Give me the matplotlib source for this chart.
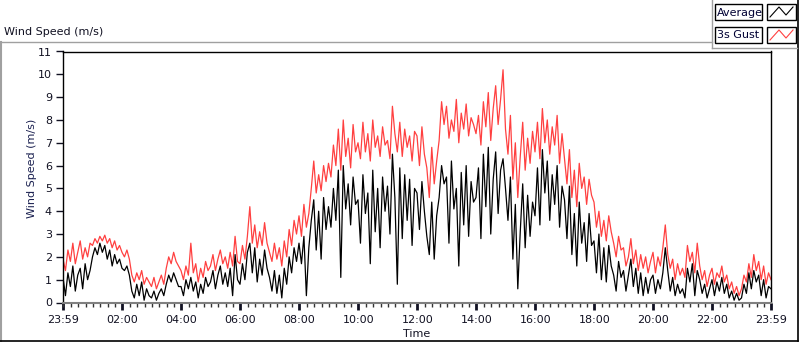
import numpy as np
import matplotlib
matplotlib.use('Agg')
import matplotlib.pyplot as plt
from matplotlib.patches import Rectangle
from matplotlib.lines import Line2D

# minutes after 23:59, one sample every 5 minutes
minutes = np.arange(0, 1441, 5)

gust = [
    1.9, 1.4, 2.3, 1.8, 2.6, 1.7, 2.2, 2.7, 1.9, 2.4, 2.0, 2.6,
    2.5, 2.8, 2.6, 2.9, 2.7, 2.95, 2.6, 2.8, 2.4, 2.7, 2.3, 2.5,
    2.2, 2.0, 2.3, 1.9, 1.2, 0.9, 1.3, 1.0, 1.4, 0.8, 1.1, 0.9,
    0.7, 1.1, 0.6, 0.9, 1.2, 0.8, 1.5, 2.0, 1.7, 2.2, 1.8, 1.6,
    1.4, 1.0, 1.6, 1.2, 2.6, 1.3, 1.7, 0.9, 1.5, 1.1, 1.8, 1.4,
    1.6, 2.1, 1.4, 1.9, 2.3, 1.7, 2.0, 1.5, 2.2, 1.6, 2.9, 1.8,
    1.7, 2.5, 1.9, 2.9, 4.2, 2.6, 3.4, 2.4, 3.1, 2.5, 3.5, 2.6,
    2.2, 1.8, 2.6, 1.9, 2.4, 1.6, 2.7, 2.0, 3.2, 2.5, 3.6, 3.0,
    3.8, 2.9, 4.3, 3.3, 3.9, 5.0, 6.2, 4.8, 5.6, 4.9, 6.0, 5.3,
    6.1, 5.5, 6.9, 6.0, 7.6, 5.8, 8.0, 6.4, 7.2, 5.9, 7.8, 6.6,
    7.0, 6.3, 7.9, 6.6, 7.4, 6.2, 8.0, 6.8, 7.3, 6.4, 7.7, 6.9,
    7.1, 6.3, 8.6, 7.4, 6.6, 7.9, 6.4, 7.6, 6.8, 7.3, 6.2, 7.5,
    7.3, 6.0, 7.7, 6.5, 5.9, 4.6, 6.8, 5.2, 6.2, 7.1, 8.8, 7.8,
    8.6, 7.2, 8.0, 7.5, 8.9, 7.0, 8.3, 7.6, 8.7, 7.3, 8.1, 7.8,
    7.4, 8.2, 6.9, 8.8, 7.7, 9.2, 7.1, 8.5, 9.5, 7.8, 8.9, 10.2,
    7.6, 6.5, 8.2, 5.4, 7.0, 4.6, 6.4, 7.9, 5.8, 7.2, 6.1, 7.5,
    6.6, 7.9, 6.3, 8.5, 7.0, 8.0, 6.5, 7.7, 6.9, 8.2, 6.1, 7.4,
    6.3, 5.2, 6.7, 4.6, 5.8, 4.2, 6.1, 5.0, 5.5, 4.3, 5.4, 4.7,
    4.4, 3.3, 4.0, 2.9, 3.6, 2.7, 3.8, 3.1, 2.6, 2.0, 2.9, 2.3,
    2.4, 1.6, 2.0, 2.8, 1.7, 2.3, 1.4, 2.1, 1.5, 2.0, 1.3, 1.8,
    2.2, 1.3, 2.0, 1.6, 2.4, 3.4, 2.1, 1.5, 1.9, 1.0, 1.7, 1.2,
    1.5, 1.1, 2.5, 1.8, 2.2, 1.3, 2.6, 1.6, 1.0, 1.4, 0.7, 1.2,
    1.5, 0.8, 1.3, 1.1, 1.6, 0.9, 1.2, 0.6, 0.9, 0.4, 0.7, 0.3,
    0.6, 1.2, 0.9, 1.7, 1.1, 2.1, 1.4, 1.8, 1.0, 1.6, 0.8, 1.3, 1.0,
]

average = [
    1.1, 0.3, 1.3, 0.7, 1.6, 0.5, 1.2, 1.5, 0.6, 1.7, 1.0, 1.4,
    2.0, 2.4, 2.1, 2.6, 2.2, 2.5, 1.9, 2.3, 1.6, 2.1, 1.7, 1.9,
    1.5, 1.4, 1.6, 1.2, 0.5, 0.2, 0.8, 0.3, 0.9, 0.1, 0.6, 0.3,
    0.2, 0.5, 0.1, 0.4, 0.6, 0.3, 0.8, 1.2, 0.9, 1.3, 1.0, 0.7,
    0.7, 0.3, 1.0, 0.6, 1.1, 0.5, 0.9, 0.2, 0.8, 0.4, 1.1, 0.7,
    0.9, 1.4, 0.6, 1.2, 1.6, 0.8, 1.3, 0.7, 1.5, 0.3, 2.1, 1.0,
    0.8, 1.7, 1.0, 2.2, 2.6, 1.3, 2.4, 0.9, 1.9, 1.2, 2.3, 1.5,
    1.1, 0.5, 1.4, 0.4, 1.2, 0.2, 1.5, 0.8, 2.0, 1.3, 2.4, 1.8,
    2.6, 1.7, 2.9, 0.3, 2.4, 3.6, 4.5, 2.3, 4.0, 1.9, 4.6, 3.2,
    4.2, 3.3, 5.0, 3.6, 5.8, 1.1, 6.0, 4.1, 5.2, 3.4, 5.5, 4.3,
    4.5, 2.6, 5.6, 3.9, 4.8, 1.7, 5.8, 3.1, 5.0, 2.4, 5.5, 4.0,
    5.1, 3.0, 6.5, 4.6, 0.8, 5.9, 2.8, 5.6, 3.6, 5.4, 2.5, 5.0,
    4.8, 3.2, 5.3, 4.0, 2.9, 2.1, 4.4, 1.9, 3.8, 4.6, 6.0, 5.2,
    5.5, 2.6, 6.2, 4.1, 5.0, 1.6, 5.7, 3.4, 6.0, 2.9, 5.3, 4.4,
    4.6, 5.9, 2.8, 6.5, 4.2, 6.8, 3.0, 5.4, 6.6, 3.9, 5.8, 6.3,
    5.0, 3.6, 5.5, 1.9, 4.3, 0.6, 3.1, 5.2, 2.4, 4.7, 2.9, 4.4,
    3.8, 5.9, 3.4, 6.7, 4.8, 6.2, 3.6, 5.6, 4.3, 6.0, 3.3, 5.1,
    4.5, 2.8, 5.1, 2.1, 3.9, 1.6, 4.4, 2.6, 3.5, 1.8, 3.9, 2.5,
    2.7, 1.3, 3.0, 1.0, 2.4, 0.9, 2.5, 1.6, 1.2, 0.5, 1.8, 1.1,
    1.4, 0.5, 1.2, 1.9, 0.7, 1.5, 0.4, 1.3, 0.3, 1.1, 0.4, 1.0,
    1.2, 0.4, 1.0, 0.6, 1.3, 2.4, 1.4, 0.5, 1.1, 0.3, 0.8, 0.4,
    0.6, 0.2, 1.5, 0.9, 1.7, 0.3, 1.4, 1.0, 0.4, 0.8, 0.2, 0.6,
    1.0, 0.3, 0.9, 0.5, 1.1, 0.4, 0.8, 0.2, 0.5, 0.1, 0.4, 0.1,
    0.2, 0.8, 0.4, 1.3, 0.6, 1.4, 0.9, 1.2, 0.3, 1.0, 0.2, 0.7, 0.6,
]

tick_pos = [0, 121, 241, 361, 481, 601, 721, 841, 961, 1081, 1201, 1321, 1440]
tick_labels = ['23:59', '02:00', '04:00', '06:00', '08:00', '10:00', '12:00',
               '14:00', '16:00', '18:00', '20:00', '22:00', '23:59']

W, H = 800, 342
fx = lambda x: x / W
fy = lambda y: 1 - y / H

fig = plt.figure(figsize=(8, 3.42), dpi=100)
fig.patch.set_facecolor('white')

ax = fig.add_axes([fx(63), fy(302.5), fx(771) - fx(63), fy(51.5) - fy(302.5)])
ax.plot(minutes, gust, color='#ff4040', lw=0.9)
ax.plot(minutes, average, color='black', lw=0.9)

ax.set_xlim(0, 1440)
ax.set_ylim(0, 11)
ax.set_yticks(range(12))
ax.set_xticks(tick_pos)
ax.set_xticklabels(tick_labels)
ax.set_xticks(np.arange(1, 1440, 15), minor=True)
ax.tick_params(axis='y', length=5, width=1, pad=3, labelsize=8, colors='#111122')
ax.tick_params(axis='x', which='major', length=5, width=2, pad=4, labelsize=8, colors='#111122')
ax.tick_params(axis='x', which='minor', length=3, width=1, color='#333333')
for s in ['top', 'left', 'right']:
    ax.spines[s].set_color('black')
    ax.spines[s].set_linewidth(1)
ax.spines['bottom'].set_color('#808080')
ax.spines['bottom'].set_linewidth(1.5)

fig.text(fx(417), fy(334), 'Time', ha='center', va='center', fontsize=8, color='#111122')
fig.text(fx(32), fy(168), 'Wind Speed (m/s)', ha='center', va='center', rotation=90,
         fontsize=8, color='#1a2050')
fig.text(fx(4), fy(32), 'Wind Speed (m/s)', ha='left', va='center', fontsize=8, color='#111122')

# outer control frame
gray = '#a0a0a0'
fig.add_artist(Line2D([fx(0.5), fx(712)], [fy(42), fy(42)], color=gray, lw=1))
fig.add_artist(Line2D([fx(0.5), fx(0.5)], [fy(42), fy(341)], color=gray, lw=1.5))
fig.add_artist(Line2D([fx(0), fx(798)], [fy(341), fy(341)], color='black', lw=1.2))
fig.add_artist(Line2D([fx(798), fx(798)], [fy(0), fy(341)], color='black', lw=1.2))
fig.add_artist(Line2D([fx(712), fx(712)], [fy(0), fy(48)], color=gray, lw=1))
fig.add_artist(Line2D([fx(712), fx(797)], [fy(48), fy(48)], color=gray, lw=1))

# legend
rows = [('Average', 'black', 4), ('3s Gust', '#ff4040', 27)]
for name, col, y0 in rows:
    fig.add_artist(Rectangle((fx(715), fy(y0 + 16)), fx(47), 16 / H, transform=fig.transFigure,
                             facecolor='white', edgecolor='black', lw=1))
    fig.text(fx(717), fy(y0 + 8.5), name, ha='left', va='center', fontsize=8, color='#000033')
    fig.add_artist(Rectangle((fx(767), fy(y0 + 16)), fx(29), 16 / H, transform=fig.transFigure,
                             facecolor='white', edgecolor='black', lw=1))
    zx = [770, 779, 786, 793]
    zy = [y0 + 13, y0 + 3, y0 + 11, y0 + 3]
    fig.add_artist(Line2D([fx(v) for v in zx], [fy(v) for v in zy], color=col, lw=0.8))

fig.savefig('out.png', dpi=100)
